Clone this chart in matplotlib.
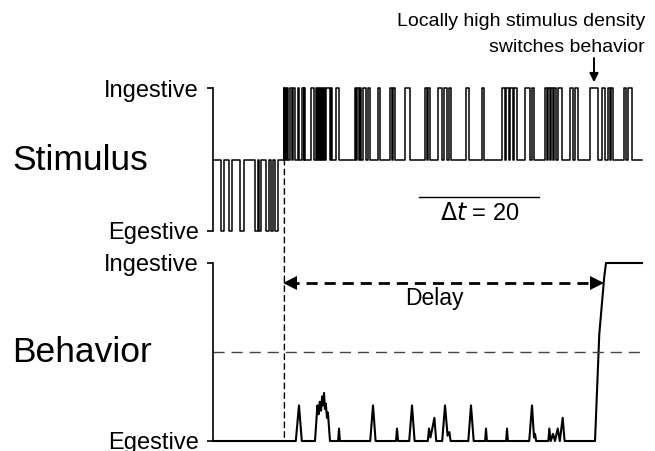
import numpy as np
import matplotlib
matplotlib.use("Agg")
import matplotlib.pyplot as plt
from matplotlib.patches import ConnectionPatch

plt.rcParams["font.family"] = ["Liberation Sans", "DejaVu Sans"]

# stimulus pulses (start, end) in time steps
egestive_pulses = [(1.3, 1.8), (2.7, 3.2), (4.5, 5.2), (7.0, 7.5), (7.6, 8.0),
                   (8.8, 9.3), (9.7, 10.0), (10.3, 10.8)]
ingestive_pulses = [(11.75, 11.9), (12.0, 12.15), (12.35, 12.5), (12.75, 13.15),
                    (13.35, 13.6), (14.15, 14.35), (14.85, 15.1), (15.2, 15.4),
                    (16.35, 16.85), (17.15, 17.35), (17.45, 17.65), (17.75, 18.0),
                    (18.1, 18.35), (18.45, 18.65), (18.85, 19.5), (19.65, 19.9),
                    (20.5, 21.0), (23.65, 23.9), (24.0, 24.35), (24.45, 24.65),
                    (25.0, 25.5), (25.85, 26.1), (27.5, 27.8), (29.5, 29.8),
                    (30.0, 30.3), (32.0, 32.8), (35.35, 35.65), (35.85, 36.15),
                    (37.5, 38.15), (38.5, 39.0), (39.35, 39.65), (42.15, 42.65),
                    (44.85, 45.1), (48.15, 48.65), (48.85, 49.3), (49.5, 50.0),
                    (50.2, 50.65), (52.0, 52.8), (53.15, 53.5), (55.35, 55.65),
                    (55.85, 56.15), (56.35, 56.65), (56.85, 57.15), (57.5, 58.15),
                    (59.5, 60.0), (60.35, 60.8), (62.85, 64.15), (64.85, 65.3),
                    (65.85, 66.15), (66.35, 66.65), (68.5, 68.9), (69.2, 69.8)]
t_end = 71.5
switch_t = 11.9

# behavior trace
beh_t = [0, 13.8, 14.33, 14.8, 17.0, 17.4, 17.6, 17.8, 18.0, 18.2, 18.35, 18.5,
         18.65, 18.8, 19.0, 19.15, 19.5, 20.85, 21.0, 21.15, 26.2, 26.67, 27.1,
         30.5, 30.67, 30.85, 32.7, 33.17, 33.6, 35.8, 36.0, 36.25, 36.9, 37.2,
         38.2, 38.67, 39.1, 39.4, 39.6, 42.55, 43.0, 43.45, 45.35, 45.5, 45.65,
         48.85, 49.0, 49.15, 52.7, 53.17, 53.5, 53.67, 53.85, 55.9, 56.05, 56.3,
         56.67, 57.0, 57.45, 57.8, 58.28, 58.6, 63.67, 64.38, 65.2, 65.5, 71.5]
beh_v = [0, 0, 0.2, 0, 0, 0.2, 0.15, 0.22, 0.17, 0.25, 0.2, 0.27,
         0.18, 0.21, 0.13, 0.16, 0, 0, 0.07, 0, 0, 0.2, 0,
         0, 0.07, 0, 0, 0.2, 0, 0, 0.07, 0.02, 0.13, 0,
         0, 0.2, 0.03, 0.05, 0, 0, 0.2, 0, 0, 0.07, 0,
         0, 0.07, 0, 0, 0.2, 0.02, 0.04, 0, 0, 0.07, 0,
         0.04, 0, 0.07, 0, 0.13, 0, 0, 0.6, 0.92, 1.0, 1.0]

delay_start, delay_end = 11.9, 65.0


def pulse_trace(pulses, level):
    xs, ys = [], []
    for s, e in pulses:
        xs += [s, s, e, e]
        ys += [0, level, level, 0]
    return xs, ys


xe, ye = pulse_trace(egestive_pulses, -1)
xi, yi = pulse_trace(ingestive_pulses, 1)
stim_x = [0] + xe + xi + [t_end]
stim_y = [0] + ye + yi + [0]

W, H = 655, 451
fig = plt.figure(figsize=(W / 100, H / 100), dpi=100)
ax1 = fig.add_axes([213 / W, 1 - 231 / H, 429 / W, 143 / H])
ax2 = fig.add_axes([213 / W, 1 - 441 / H, 429 / W, 178 / H])

ax1.plot(stim_x, stim_y, color="black", lw=1.1, clip_on=False)
ax1.set_ylim(-1, 1)
ax1.set_yticks([1, -1])
ax1.set_yticklabels(["Ingestive", "Egestive"])

ax2.plot(beh_t, beh_v, color="black", lw=1.5, clip_on=False)
ax2.axhline(0.5, color="#444444", lw=1, ls=(0, (8, 5)))
ax2.set_ylim(0, 1)
ax2.set_yticks([1, 0])
ax2.set_yticklabels(["Ingestive", "Egestive"])

for ax in (ax1, ax2):
    ax.set_xlim(0, t_end)
    for s in ("top", "right", "bottom"):
        ax.spines[s].set_visible(False)
    ax.spines["left"].set_linewidth(1.2)
    ax.set_xticks([])
    ax.tick_params(axis="y", direction="out", length=4, width=1.2, pad=6,
                   labelsize=17)
    ax.patch.set_alpha(0)

# switch marker
con = ConnectionPatch(xyA=(switch_t, 0), coordsA=ax1.transData,
                      xyB=(switch_t, 0), coordsB=ax2.transData,
                      color="black", lw=1, ls=(0, (4, 3)))
fig.add_artist(con)

# delay arrow
ax2.plot([delay_start + 0.6, delay_end - 0.6], [0.89, 0.89], color="black",
         lw=2, ls=(0, (4, 2.5)))
ax2.plot(delay_start + 1.0, 0.89, marker="<", color="black", ms=10, mew=0)
ax2.plot(delay_end - 1.0, 0.89, marker=">", color="black", ms=10, mew=0)
ax2.text((delay_start + delay_end) / 2 - 1.5, 0.80, "Delay", ha="center",
         va="center", fontsize=16.5)

# scale bar
ax1.plot([34.3, 54.3], [-0.53, -0.53], color="black", lw=1)
ax1.text(44.5, -0.76, r"$\Delta$$\it{t}$ = 20", ha="center", va="center",
         fontsize=17)

# annotation
ax1.annotate("", xy=(63.5, 1.08), xytext=(63.5, 1.42),
             arrowprops=dict(arrowstyle="-|>", color="black", lw=1.4,
                             mutation_scale=13, shrinkA=0, shrinkB=0),
             annotation_clip=False)
fig.text(645 / W, 1 - 21 / H, "Locally high stimulus density", ha="right",
         va="center", fontsize=14)
fig.text(645 / W, 1 - 48 / H, "switches behavior", ha="right", va="center",
         fontsize=14)

fig.text(12 / W, 1 - 160 / H, "Stimulus", ha="left", va="center", fontsize=25.5)
fig.text(12 / W, 1 - 352 / H, "Behavior", ha="left", va="center", fontsize=25.5)

fig.savefig("out.png", dpi=100)
